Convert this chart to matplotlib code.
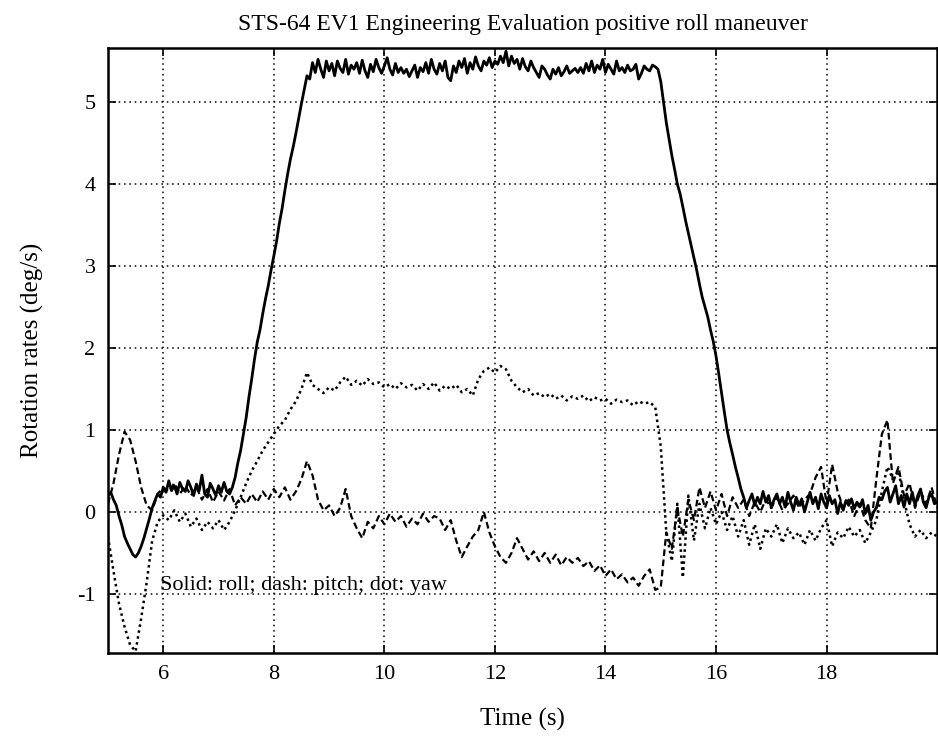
import numpy as np
import matplotlib
matplotlib.use("Agg")
import matplotlib.pyplot as plt

plt.rcParams['font.family'] = ['Liberation Serif', 'DejaVu Serif']
plt.rcParams['axes.unicode_minus'] = False

# Roll rate (deg/s), sampled every 0.05 s from t = 5.00 s to t = 20.00 s
roll = [
    0.20, 0.24, 0.15, 0.08, -0.05, -0.16, -0.30, -0.38, -0.45, -0.52,      # 5.00
    -0.55, -0.50, -0.42, -0.32, -0.20, -0.08, 0.05, 0.14, 0.22, 0.18,      # 5.50
    0.30, 0.24, 0.38, 0.26, 0.32, 0.22, 0.36, 0.28, 0.25, 0.38,            # 6.00
    0.30, 0.20, 0.34, 0.26, 0.45, 0.22, 0.18, 0.35, 0.28, 0.20,            # 6.50
    0.32, 0.24, 0.36, 0.25, 0.22, 0.30, 0.42, 0.60, 0.75, 0.95,            # 7.00
    1.15, 1.40, 1.62, 1.86, 2.07, 2.22, 2.42, 2.60, 2.76, 2.95,            # 7.50
    3.12, 3.30, 3.52, 3.70, 3.92, 4.12, 4.30, 4.45, 4.62, 4.80,            # 8.00
    4.98, 5.15, 5.32, 5.28, 5.48, 5.36, 5.52, 5.40, 5.30, 5.50,            # 8.50
    5.38, 5.47, 5.32, 5.50, 5.41, 5.36, 5.52, 5.34, 5.45, 5.40,            # 9.00
    5.48, 5.35, 5.51, 5.38, 5.30, 5.46, 5.37, 5.52, 5.42, 5.35,            # 9.50
    5.44, 5.54, 5.40, 5.33, 5.47, 5.36, 5.42, 5.35, 5.40, 5.31,            # 10.00
    5.38, 5.45, 5.30, 5.42, 5.37, 5.48, 5.35, 5.52, 5.40, 5.34,            # 10.50
    5.47, 5.38, 5.50, 5.30, 5.26, 5.44, 5.36, 5.50, 5.42, 5.53,            # 11.00
    5.35, 5.48, 5.40, 5.55, 5.44, 5.38, 5.50, 5.45, 5.54, 5.42,            # 11.50
    5.50, 5.46, 5.56, 5.48, 5.62, 5.44, 5.56, 5.47, 5.52, 5.40,            # 12.00
    5.53, 5.43, 5.38, 5.50, 5.42, 5.36, 5.30, 5.44, 5.40, 5.33,            # 12.50
    5.28, 5.40, 5.34, 5.42, 5.32, 5.37, 5.44, 5.35, 5.38, 5.41,            # 13.00
    5.36, 5.42, 5.35, 5.47, 5.38, 5.50, 5.36, 5.45, 5.40, 5.52,            # 13.50
    5.36, 5.46, 5.40, 5.34, 5.50, 5.38, 5.42, 5.36, 5.45, 5.38,            # 14.00
    5.40, 5.46, 5.28, 5.35, 5.44, 5.40, 5.38, 5.45, 5.43, 5.40,            # 14.50
    5.25, 5.00, 4.75, 4.55, 4.35, 4.18, 4.00, 3.88, 3.72, 3.55,            # 15.00
    3.40, 3.25, 3.10, 2.95, 2.78, 2.62, 2.50, 2.38, 2.22, 2.08,            # 15.50
    1.90, 1.68, 1.45, 1.22, 1.00, 0.84, 0.70, 0.55, 0.42, 0.28,            # 16.00
    0.18, 0.05, 0.14, 0.22, 0.08, 0.18, 0.10, 0.25, 0.12, 0.20,            # 16.50
    0.05, 0.15, 0.22, 0.10, 0.18, 0.06, 0.24, 0.12, 0.02, 0.18,            # 17.00
    0.08, 0.16, 0.00, 0.12, 0.24, 0.10, 0.18, 0.04, 0.22, 0.12,            # 17.50
    0.05, 0.20, 0.10, 0.15, -0.02, 0.12, 0.02, 0.14, 0.08, 0.16,           # 18.00
    0.04, 0.12, 0.06, 0.15, -0.02, 0.08, -0.10, 0.00, 0.05, 0.18,          # 18.50
    0.15, 0.25, 0.30, 0.12, 0.22, 0.32, 0.10, 0.20, 0.06, 0.22,            # 19.00
    0.10, 0.24, 0.08, 0.20, 0.28, 0.12, 0.05, 0.18, 0.22, 0.10,            # 19.50
    0.12,                                                                  # 20.00
]

# Pitch and yaw rates (deg/s), sampled every 0.1 s from t = 5.0 s to t = 20.0 s
pitch = [
    0.10, 0.35, 0.70, 0.98, 0.88, 0.62, 0.30, 0.08, 0.02, 0.22,            # 5.0
    0.30, 0.25, 0.35, 0.22, 0.32, 0.20, 0.30, 0.15, 0.28, 0.12,            # 6.0
    0.25, 0.14, 0.28, 0.08, 0.18, 0.10, 0.22, 0.12, 0.25, 0.15,            # 7.0
    0.28, 0.18, 0.30, 0.15, 0.25, 0.40, 0.62, 0.45, 0.15, 0.02,            # 8.0
    0.08, -0.05, 0.05, 0.28, -0.05, -0.20, -0.32, -0.12, -0.20, -0.05,     # 9.0
    -0.15, -0.02, -0.12, -0.05, -0.18, -0.08, -0.15, -0.02, -0.12, -0.05,  # 10.0
    -0.08, -0.22, -0.10, -0.35, -0.55, -0.42, -0.30, -0.22, 0.00, -0.25,   # 11.0
    -0.42, -0.55, -0.62, -0.50, -0.32, -0.45, -0.58, -0.48, -0.60, -0.50,  # 12.0
    -0.62, -0.52, -0.65, -0.55, -0.62, -0.56, -0.66, -0.60, -0.72, -0.65,  # 13.0
    -0.78, -0.70, -0.82, -0.76, -0.86, -0.80, -0.90, -0.78, -0.70, -0.95,  # 14.0
    -0.92, -0.25, -0.45, 0.05, -0.30, 0.15, -0.10, 0.30, 0.05, 0.25,       # 15.0
    0.02, 0.22, -0.05, 0.18, 0.05, 0.15, -0.05, 0.12, 0.00, 0.15,          # 16.0
    0.05, 0.18, 0.02, 0.10, 0.20, 0.05, 0.15, 0.22, 0.42, 0.55,            # 17.0
    0.10, 0.58, 0.25, 0.05, 0.15, -0.05, 0.10, -0.10, -0.20, 0.40,         # 18.0
    0.95, 1.12, 0.35, 0.55, 0.20, 0.35, 0.05, 0.25, 0.10, 0.30,            # 19.0
    0.05,                                                                  # 20.0
]

yaw = [
    -0.30, -0.72, -1.12, -1.40, -1.62, -1.70, -1.30, -0.86, -0.35, -0.12,  # 5.0
    -0.04, -0.10, 0.02, -0.12, -0.02, -0.18, -0.08, -0.22, -0.12, -0.20,   # 6.0
    -0.10, -0.22, -0.12, 0.02, 0.18, 0.35, 0.50, 0.62, 0.75, 0.85,         # 7.0
    0.95, 1.05, 1.12, 1.25, 1.35, 1.50, 1.70, 1.55, 1.50, 1.45,            # 8.0
    1.52, 1.48, 1.58, 1.65, 1.55, 1.60, 1.54, 1.62, 1.56, 1.58,            # 9.0
    1.52, 1.56, 1.50, 1.57, 1.52, 1.55, 1.48, 1.56, 1.50, 1.58,            # 10.0
    1.48, 1.54, 1.50, 1.55, 1.46, 1.50, 1.42, 1.62, 1.72, 1.76,            # 11.0
    1.70, 1.78, 1.74, 1.60, 1.52, 1.46, 1.50, 1.42, 1.45, 1.40,            # 12.0
    1.44, 1.38, 1.42, 1.36, 1.41, 1.38, 1.42, 1.35, 1.40, 1.36,            # 13.0
    1.38, 1.32, 1.37, 1.34, 1.36, 1.30, 1.35, 1.32, 1.34, 1.28,            # 14.0
    0.80, -0.25, -0.60, 0.10, -0.80, 0.20, -0.35, 0.10, -0.20, 0.05,       # 15.0
    -0.15, 0.00, -0.22, -0.05, -0.30, -0.10, -0.40, -0.15, -0.45, -0.20,   # 16.0
    -0.30, -0.15, -0.38, -0.20, -0.32, -0.25, -0.40, -0.22, -0.35, -0.20,  # 17.0
    -0.10, -0.42, -0.25, -0.32, -0.18, -0.30, -0.22, -0.38, -0.25, -0.10,  # 18.0
    0.25, 0.55, 0.40, 0.50, 0.15, -0.15, -0.30, -0.22, -0.32, -0.25,       # 19.0
    -0.30,                                                                 # 20.0
]

assert len(roll) == 301
assert len(pitch) == len(yaw) == 151
time_roll = np.linspace(5.0, 20.0, len(roll))
time_py = np.linspace(5.0, 20.0, len(pitch))

xticks = [6, 8, 10, 12, 14, 16, 18]
yticks = [-1, 0, 1, 2, 3, 4, 5]

fig = plt.figure(figsize=(9.38, 7.37), dpi=100)
ax = fig.add_axes([0.1151, 0.114, 0.884, 0.821])

ax.plot(time_roll, roll, color='black', linestyle='-', linewidth=2.0)
ax.plot(time_py, pitch, color='black', linestyle=(0, (3, 1.6)), linewidth=1.6)
ax.plot(time_py, yaw, color='black', linestyle=(0, (1, 1.4)), linewidth=1.8)

ax.set_xlim(5.0, 20.0)
ax.set_ylim(-1.72, 5.66)
ax.set_xticks(xticks)
ax.set_yticks(yticks)
ax.tick_params(direction='in', length=6, width=1.2, top=True, right=True,
               labelsize=16, pad=9, colors='black')
ax.grid(True, color='black', linestyle=(0, (1, 2.5)), linewidth=1.1)
for side in ax.spines.values():
    side.set_linewidth(1.8)
    side.set_color('black')

ax.set_title('STS-64 EV1 Engineering Evaluation positive roll maneuver',
             fontsize=17, pad=13)
ax.set_xlabel('Time (s)', fontsize=18, labelpad=17)
ax.set_ylabel('Rotation rates (deg/s)', fontsize=18, labelpad=24)

ax.text(5.95, -0.9, 'Solid: roll; dash: pitch; dot: yaw', fontsize=16,
        va='center', ha='left')

fig.savefig('out.png', dpi=100)
